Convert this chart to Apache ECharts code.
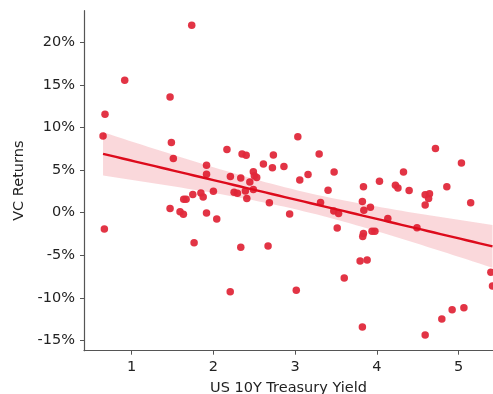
<!DOCTYPE html>
<html>
<head>
<meta charset="utf-8">
<script src="https://cdn.jsdelivr.net/npm/echarts@6/dist/echarts.min.js"></script>
<style>
  html, body { margin: 0; padding: 0; background: #fff; }
  #chart { width: 493px; height: 394px; }
</style>
</head>
<body>
<div id="chart"></div>
<script>
// US 10Y treasury yield (x) vs VC returns in % (y)
const yields = [
  0.649, 0.673, 0.665, 0.914, 1.469, 1.485, 1.509, 1.469, 1.591, 1.632,
  1.636, 1.665, 1.734, 1.747, 1.763, 1.846, 1.874, 1.915, 1.915, 1.915,
  1.999, 2.04, 2.165, 2.207, 2.205, 2.252, 2.293, 2.334, 2.334, 2.35,
  2.40, 2.39, 2.408, 2.445, 2.488, 2.488, 2.50, 2.529, 2.611, 2.668,
  2.684, 2.721, 2.733, 2.862, 2.932, 3.013, 3.032, 3.056, 3.157, 3.293,
  3.31, 3.402, 3.472, 3.476, 3.531, 3.514, 3.60, 3.794, 3.822, 3.835,
  3.84, 3.92, 3.835, 3.826, 3.822, 3.88, 3.94, 3.975, 4.031, 4.133,
  4.226, 4.257, 4.325, 4.394, 4.49, 4.59, 4.643, 4.632, 4.59, 4.59,
  4.716, 4.794, 4.855, 4.92, 5.034, 5.064, 5.147, 5.394, 5.414
];
const returns = [
  9.0, 11.55, -1.93, 15.55, 13.56, 8.22, 6.35, 0.5, 0.1, -0.2,
  1.58, 1.58, 22.0, 2.12, -3.53, 2.32, 1.85, 5.56, 4.5, -0.03,
  2.52, -0.73, 7.42, 4.25, -9.28, 2.4, 2.27, 4.08, -4.05, 6.88,
  6.75, 2.55, 1.67, 3.6, 4.79, 2.72, 4.32, 4.13, 5.7, -3.92,
  1.16, 5.28, 6.76, 5.42, -0.16, -9.12, 8.9, 3.82, 4.49, 6.88,
  1.2, 2.62, 0.2, 4.76, -0.1, -1.79, -7.67, -5.68, 1.3, 3.04,
  0.27, 0.63, -2.44, -2.8, -13.42, -5.57, -2.17, -2.17, 3.7, -0.7,
  3.22, 2.88, 4.76, 2.6, -1.78, 2.1, 2.23, 1.67, 0.89, -14.36,
  7.54, -12.48, 3.04, -11.39, 5.84, -11.15, 1.16, -7.0, -8.61
];
const xTicks = [1, 2, 3, 4, 5];
const yTicks = [-15, -10, -5, 0, 5, 10, 15, 20];

const pointColor = '#e0293b';
const lineColor = '#dd0b1c';
const font = 'DejaVu Sans';

// ordinary least squares fit with a 95% confidence band for the mean
const n = yields.length;
const mx = yields.reduce((a, b) => a + b, 0) / n;
const my = returns.reduce((a, b) => a + b, 0) / n;
let sxx = 0, sxy = 0;
for (let i = 0; i < n; i++) {
  sxx += (yields[i] - mx) ** 2;
  sxy += (yields[i] - mx) * (returns[i] - my);
}
const slope = sxy / sxx;
const icept = my - slope * mx;
let sse = 0;
for (let i = 0; i < n; i++) sse += (returns[i] - icept - slope * yields[i]) ** 2;
const s = Math.sqrt(sse / (n - 2));
const tval = 1.988;
const xLo = Math.min(...yields), xHi = Math.max(...yields);
const fitLine = [], bandUp = [], bandDown = [];
for (let k = 0; k <= 60; k++) {
  const x = xLo + (xHi - xLo) * k / 60;
  const yhat = icept + slope * x;
  const half = tval * s * Math.sqrt(1 / n + (x - mx) ** 2 / sxx);
  fitLine.push([x, yhat]);
  bandUp.push([x, yhat + half]);
  bandDown.push([x, yhat - half]);
}

const chart = echarts.init(document.getElementById('chart'));

const axisCommon = {
  type: 'value',
  splitLine: { show: false },
  axisLine: { show: true, onZero: false, lineStyle: { color: '#555', width: 1.2 } },
  axisTick: { show: true, length: 4, lineStyle: { color: '#555', width: 1 } },
  nameLocation: 'middle',
  nameTextStyle: { fontFamily: font, fontSize: 14.5, color: '#222' }
};

chart.setOption({
  animation: false,
  backgroundColor: '#fff',
  grid: {
    left: 84, right: 0, top: 10.7, bottom: 43.3,
    containLabel: false,
    outerBoundsMode: 'none'
  },
  xAxis: Object.assign({}, axisCommon, {
    min: 0.416,
    max: 5.42,
    name: 'US 10Y Treasury Yield',
    nameGap: 30,
    axisTick: Object.assign({}, axisCommon.axisTick, { customValues: xTicks }),
    axisLabel: {
      customValues: xTicks,
      margin: 9,
      fontFamily: font, fontSize: 14.5, color: '#222'
    }
  }),
  yAxis: Object.assign({}, axisCommon, {
    min: -16.2,
    max: 23.7,
    name: 'VC Returns',
    nameGap: 56,
    axisTick: Object.assign({}, axisCommon.axisTick, { customValues: yTicks }),
    axisLabel: {
      customValues: yTicks,
      margin: 9,
      formatter: v => v + '%',
      fontFamily: font, fontSize: 14.5, color: '#222'
    }
  }),
  series: [
    {
      type: 'scatter',
      data: yields.map((x, i) => [x, returns[i]]),
      symbolSize: 7.5,
      itemStyle: { color: pointColor, opacity: 0.95 },
      z: 2
    },
    {
      type: 'custom',
      data: [0],
      clip: true,
      z: 3,
      renderItem: (params, api) => {
        const pts = bandUp.map(p => api.coord(p))
          .concat(bandDown.slice().reverse().map(p => api.coord(p)));
        return {
          type: 'polygon',
          shape: { points: pts },
          style: { fill: 'rgba(226,10,30,0.16)' }
        };
      }
    },
    {
      type: 'line',
      data: fitLine,
      showSymbol: false,
      lineStyle: { color: lineColor, width: 2.4 },
      z: 4
    }
  ]
});
</script>
</body>
</html>
